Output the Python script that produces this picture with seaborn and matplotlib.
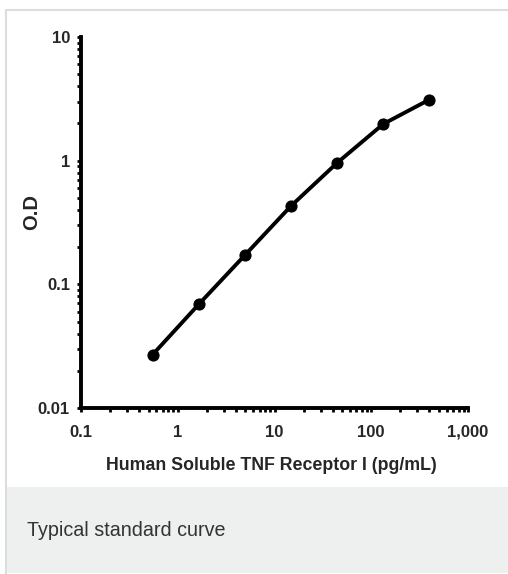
import matplotlib
matplotlib.use("Agg")
import matplotlib.pyplot as plt
import matplotlib.ticker as mticker
from matplotlib.patches import Rectangle
import seaborn as sns
import pandas as pd

concentration = [0.55, 1.65, 4.94, 14.8, 44.4, 133.3, 400.0]
od = [0.027, 0.069, 0.172, 0.43, 0.96, 1.98, 3.12]
x_ticks = [0.1, 1, 10, 100, 1000]
x_tick_labels = ["0.1", "1", "10", "100", "1,000"]
y_ticks = [0.01, 0.1, 1, 10]
y_tick_labels = ["0.01", "0.1", "1", "10"]
x_label = "Human Soluble TNF Receptor I (pg/mL)"
y_label = "O.D"
caption = "Typical standard curve"

sns.set_style("white")
plt.rcParams['font.family'] = ['Liberation Sans', 'DejaVu Sans']

W, H = 508, 574
fig = plt.figure(figsize=(W / 100, H / 100), dpi=100)

# card border and footer
fig.patches.append(Rectangle((6 / W, -0.01), 1, 1 - 10 / H + 0.01, transform=fig.transFigure,
                             facecolor="white", edgecolor="#dddddd", linewidth=1.5, zorder=-10))
fig.patches.append(Rectangle((7 / W, 1 / H), 1, (574 - 488) / H, transform=fig.transFigure,
                             facecolor="#eeefef", edgecolor="none", zorder=-9))
fig.text(27 / W, 1 - 531 / H, caption, fontsize=14.2, color="#333333",
         va="center", ha="left")

ax = fig.add_axes([81 / W, 1 - 408 / H, (468 - 81) / W, (408 - 37) / H])
ax.set_facecolor("none")
df = pd.DataFrame({"conc": concentration, "od": od})
sns.lineplot(data=df, x="conc", y="od", ax=ax, color="black", linewidth=2.8,
             marker="o", markersize=8, markeredgecolor="black")
ax.set_xscale("log")
ax.set_yscale("log")
ax.set_xlim(0.1, 1000)
ax.set_ylim(0.01, 10)

for s in ["top", "right"]:
    ax.spines[s].set_visible(False)
for s in ["left", "bottom"]:
    ax.spines[s].set_visible(True)
    ax.spines[s].set_linewidth(2.8)
    ax.spines[s].set_color("black")

ax.set_xticks(x_ticks)
ax.set_xticklabels(x_tick_labels)
ax.set_yticks(y_ticks)
ax.set_yticklabels(y_tick_labels)
ax.xaxis.set_minor_locator(mticker.LogLocator(base=10, subs=range(2, 10), numticks=20))
ax.yaxis.set_minor_locator(mticker.LogLocator(base=10, subs=range(2, 10), numticks=20))
ax.xaxis.set_minor_formatter(mticker.NullFormatter())
ax.yaxis.set_minor_formatter(mticker.NullFormatter())
ax.tick_params(axis="both", which="major", direction="out", length=3, width=2,
               color="black", left=True, bottom=True)
ax.tick_params(axis="y", which="major", pad=5)
ax.tick_params(axis="x", which="major", pad=9)
ax.tick_params(axis="both", which="minor", direction="out", length=3, width=2,
               color="black", left=True, bottom=True)
for lab in ax.get_xticklabels() + ax.get_yticklabels():
    lab.set_fontweight("bold")
    lab.set_fontsize(12)

ax.set_xlabel(x_label, fontsize=12.8, fontweight="bold")
ax.xaxis.set_label_coords(0.492, -0.133)
ax.set_ylabel(y_label, fontsize=14.5, fontweight="bold")
ax.yaxis.set_label_coords(-0.103, 0.528)

fig.savefig("out.png", dpi=100)
